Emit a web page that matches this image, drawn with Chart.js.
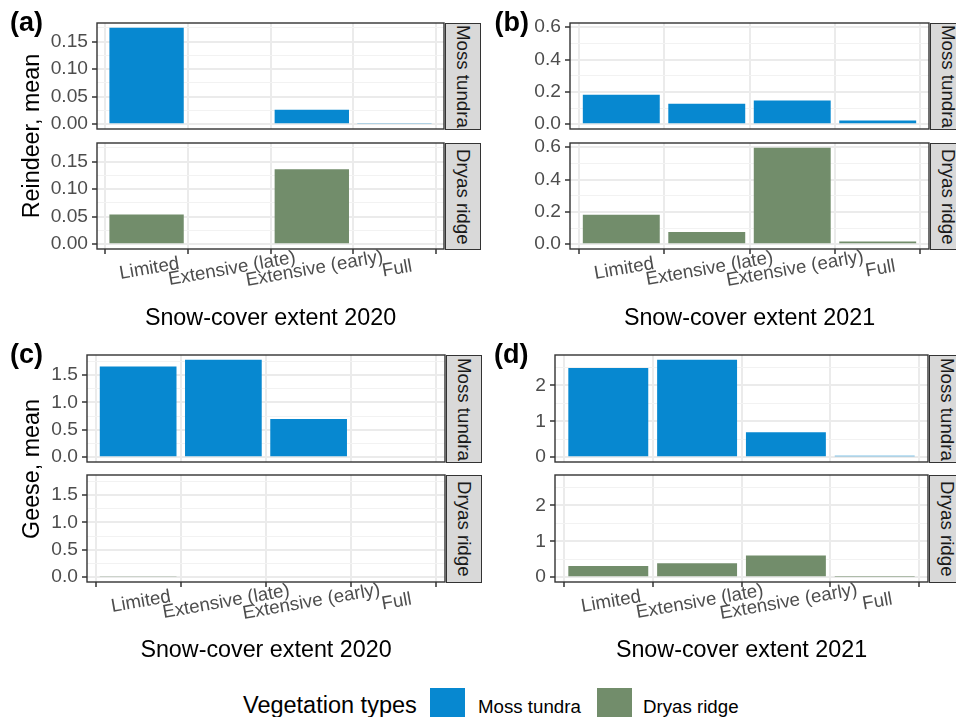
<!DOCTYPE html>
<html>
<head>
<meta charset="utf-8">
<script src="https://cdn.jsdelivr.net/npm/chart.js@4.4.1/dist/chart.umd.min.js"></script>
<style>
html,body{margin:0;padding:0;background:#fff;}
body{width:956px;height:717px;overflow:hidden;position:relative;font-family:"Liberation Sans",Arial,Helvetica,sans-serif;}
canvas{position:absolute;}
.t{position:absolute;white-space:nowrap;color:#000;}
.strip{position:absolute;background:#D9D9D9;border:1.3px solid #333;box-sizing:border-box;display:flex;align-items:center;justify-content:center;}
.strip span{writing-mode:vertical-rl;font-size:18.7px;line-height:18.7px;color:#1A1A1A;}
.key{position:absolute;width:35px;height:35px;}
</style>
</head>
<body>
<script>
// ---------------- data ----------------
const categories = ['Limited', 'Extensive (late)', 'Extensive (early)', 'Full'];
const vegetationTypes = ['Moss tundra', 'Dryas ridge'];

const reindeer2020Moss  = [0.175, 0, 0.026, 0.002];
const reindeer2020Dryas = [0.054, 0, 0.136, 0];
const reindeer2021Moss  = [0.182, 0.127, 0.147, 0.022];
const reindeer2021Dryas = [0.182, 0.075, 0.596, 0.016];
const geese2020Moss     = [1.66, 1.78, 0.70, 0];
const geese2020Dryas    = [0.01, 0, 0, 0];
const geese2021Moss     = [2.48, 2.71, 0.69, 0.036];
const geese2021Dryas    = [0.31, 0.39, 0.60, 0.012];

const ticksReindeer2020 = [0, 0.05, 0.10, 0.15];
const tickLabelsReindeer2020 = ['0.00', '0.05', '0.10', '0.15'];
const ticksReindeer2021 = [0, 0.2, 0.4, 0.6];
const tickLabelsReindeer2021 = ['0.0', '0.2', '0.4', '0.6'];
const ticksGeese2020 = [0, 0.5, 1.0, 1.5];
const tickLabelsGeese2020 = ['0.0', '0.5', '1.0', '1.5'];
const ticksGeese2021 = [0, 1, 2];
const tickLabelsGeese2021 = ['0', '1', '2'];

const xTitle2020 = 'Snow-cover extent 2020';
const xTitle2021 = 'Snow-cover extent 2021';
const yTitleReindeer = 'Reindeer, mean';
const yTitleGeese = 'Geese, mean';
const legendTitle = 'Vegetation types';

// ---------------- style / layout ----------------
const FONT = '"Liberation Sans", Arial, Helvetica, sans-serif';
const colors = ['#0788D0', '#728D6B'];
Chart.defaults.font.family = FONT;

const panels = [
  {letter:'(a)', lx:10, lb:31.5, L:97, R:444, rows:[[23,129],[143,249]], series:[reindeer2020Moss, reindeer2020Dryas], ticks:ticksReindeer2020, labels:tickLabelsReindeer2020, xTitle:xTitle2020, yTitle:yTitleReindeer, xtb:326},
  {letter:'(b)', lx:494.5, lb:31.5, L:570, R:929, rows:[[23,129],[143,249]], series:[reindeer2021Moss, reindeer2021Dryas], ticks:ticksReindeer2021, labels:tickLabelsReindeer2021, xTitle:xTitle2021, yTitle:null, xtb:326},
  {letter:'(c)', lx:10, lb:364, L:87, R:445, rows:[[355,462],[475,582]], series:[geese2020Moss, geese2020Dryas], ticks:ticksGeese2020, labels:tickLabelsGeese2020, xTitle:xTitle2020, yTitle:yTitleGeese, xtb:658},
  {letter:'(d)', lx:494, lb:364, L:555, R:928, rows:[[355,462],[475,582]], series:[geese2021Moss, geese2021Dryas], ticks:ticksGeese2021, labels:tickLabelsGeese2021, xTitle:xTitle2021, yTitle:null, xtb:658}
];

const framePlugin = {
  id:'frame',
  afterDraw(chart){
    const {ctx, chartArea:a} = chart;
    ctx.save();
    ctx.strokeStyle = '#333333';
    ctx.lineWidth = 1.4;
    ctx.strokeRect(a.left, a.top, a.right - a.left, a.bottom - a.top);
    ctx.restore();
  }
};

const xLabelPlugin = {
  id:'xlabels',
  afterDraw(chart){
    const {ctx, chartArea:a} = chart;
    const xs = chart.scales.x;
    const fs = 18.7;
    ctx.save();
    ctx.fillStyle = '#4D4D4D';
    ctx.font = fs + 'px ' + FONT;
    ctx.textAlign = 'center';
    ctx.textBaseline = 'alphabetic';
    categories.forEach((c, i) => {
      const px = xs.getPixelForValue(i + 1);
      ctx.save();
      ctx.translate(px + 2.5, a.bottom + 18.3);
      ctx.rotate(-10 * Math.PI / 180);
      ctx.fillText(c, 0, 0.358 * fs);
      ctx.restore();
    });
    ctx.restore();
  }
};

function makeFacet(p, row){
  const values = p.series[row];
  const isBottom = row === 1;
  const AX = 60, PT = 16, PR = 6, PB = isBottom ? 48 : 16;
  const [T, B] = p.rows[row];
  const w = p.R - p.L + AX + PR, h = B - T + PT + PB;
  const cv = document.createElement('canvas');
  cv.width = w; cv.height = h;
  cv.style.left = (p.L - AX) + 'px';
  cv.style.top = (T - PT) + 'px';
  cv.style.width = w + 'px';
  cv.style.height = h + 'px';
  document.body.appendChild(cv);

  const maxV = Math.max(...p.series[0], ...p.series[1]);
  const yMin = -0.05 * maxV, yMax = 1.05 * maxV;
  const major = p.ticks;
  const step = major[1] - major[0];
  const yTicks = major.map((v, i) => ({value:v, txt:p.labels[i], minor:false}));
  for (let i = 0; i < major.length; i++) {
    const m = major[i] + step / 2;
    if (m <= yMax) yTicks.push({value:m, txt:'', minor:true});
  }
  if (major[0] - step / 2 >= yMin) yTicks.push({value:major[0] - step/2, txt:'', minor:true});
  yTicks.sort((a, b) => a.value - b.value);

  new Chart(cv, {
    type:'bar',
    data:{
      datasets:[{
        label: vegetationTypes[row],
        data: values.map((v, i) => ({x:i + 1, y:v})),
        backgroundColor: colors[row],
        borderWidth: 0,
        barPercentage: 0.9,
        categoryPercentage: 1
      }]
    },
    options:{
      responsive:false,
      animation:false,
      devicePixelRatio:1,
      layout:{padding:{left:0, top:PT, right:PR, bottom:PB}},
      plugins:{legend:{display:false}, tooltip:{enabled:false}},
      scales:{
        x:{
          type:'linear', min:0.4, max:4.6, bounds:'data', offset:false,
          afterBuildTicks: s => { s.ticks = categories.map((c, i) => ({value:i + 1})); },
          afterFit: s => { s.height = 0; },
          ticks:{display:false, autoSkip:false},
          grid:{color:'#EBEBEB', lineWidth:2, drawTicks:isBottom, tickLength:5, tickColor:'#333333', tickWidth:1.5},
          border:{display:false}
        },
        y:{
          type:'linear', min:yMin, max:yMax, bounds:'data',
          afterBuildTicks: s => { s.ticks = yTicks.map(t => Object.assign({}, t)); },
          afterFit: s => { s.width = AX; },
          ticks:{
            autoSkip:false, padding:4, color:'#4D4D4D',
            font:{family:FONT, size:19.2},
            callback:(v, i, ts) => ts[i].minor ? '' : ts[i].txt
          },
          grid:{
            color: c => (c.tick && c.tick.minor) ? '#F2F2F2' : '#EBEBEB',
            lineWidth: c => (c.tick && c.tick.minor) ? 1 : 2,
            tickLength:5,
            tickColor: c => (c.tick && c.tick.minor) ? 'rgba(0,0,0,0)' : '#333333',
            tickWidth:1.5
          },
          border:{display:false}
        }
      }
    },
    plugins: isBottom ? [framePlugin, xLabelPlugin] : [framePlugin]
  });

  // strip
  const st = document.createElement('div');
  st.className = 'strip';
  st.style.left = (p.R + 1) + 'px';
  st.style.top = T + 'px';
  st.style.width = '36px';
  st.style.height = (B - T + 1) + 'px';
  const sp = document.createElement('span');
  sp.textContent = vegetationTypes[row];
  st.appendChild(sp);
  document.body.appendChild(st);
}

function addText(txt, css){
  const d = document.createElement('div');
  d.className = 't';
  d.textContent = txt;
  Object.assign(d.style, css);
  document.body.appendChild(d);
  return d;
}

panels.forEach(p => {
  makeFacet(p, 0);
  makeFacet(p, 1);
  // panel letter
  const lfs = 27;
  addText(p.letter, {left:p.lx + 'px', top:(p.lb - 0.8465 * lfs) + 'px', fontSize:lfs + 'px', lineHeight:lfs + 'px', fontWeight:'bold'});
  // x title
  const tfs = 23.3;
  addText(p.xTitle, {left:((p.L + p.R) / 2) + 'px', top:(p.xtb - 0.8465 * tfs) + 'px', fontSize:tfs + 'px', lineHeight:tfs + 'px', transform:'translateX(-50%)'});
  // y title
  if (p.yTitle) {
    const cy = (p.rows[0][0] + p.rows[1][1]) / 2;
    const cx = 40 - 0.3465 * tfs;
    addText(p.yTitle, {left:cx + 'px', top:cy + 'px', fontSize:tfs + 'px', lineHeight:tfs + 'px', transform:'translate(-50%,-50%) rotate(-90deg)'});
  }
});

// legend
addText(legendTitle, {left:'243px', top:(714 - 0.8465 * 23.5) + 'px', fontSize:'23.5px', lineHeight:'23.5px'});
const legendKeyX = [430, 597];
const legendTextX = [478, 643];
vegetationTypes.forEach((v, i) => {
  const k = document.createElement('div');
  k.className = 'key';
  k.style.left = legendKeyX[i] + 'px';
  k.style.top = '688px';
  k.style.background = colors[i];
  document.body.appendChild(k);
  addText(v, {left:legendTextX[i] + 'px', top:(714 - 0.8465 * 18.7) + 'px', fontSize:'18.7px', lineHeight:'18.7px'});
});
</script>
</body>
</html>
